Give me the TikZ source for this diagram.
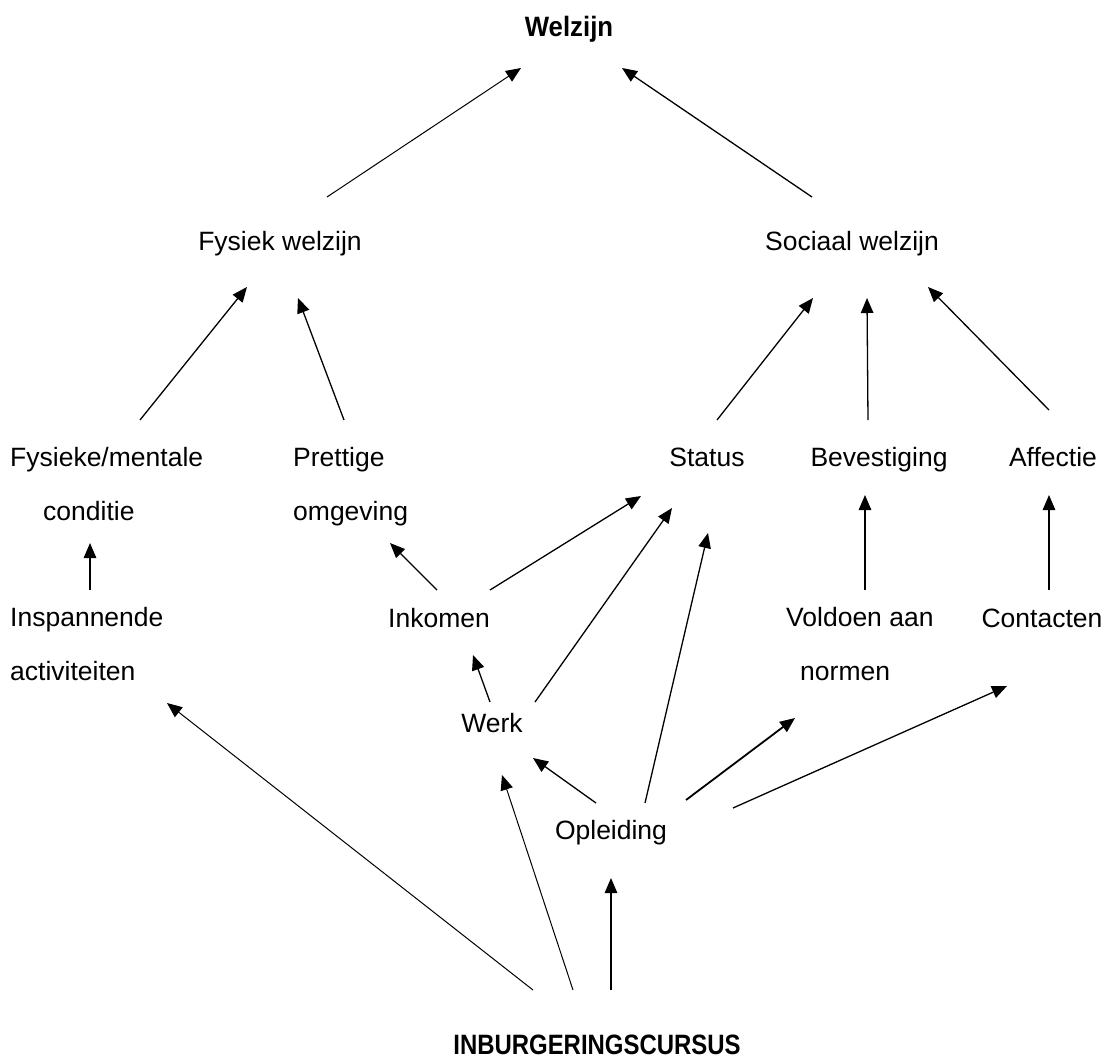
\documentclass[tikz,border=0pt]{standalone}
\usepackage{fontspec}
\setmainfont{Liberation Sans}
\usetikzlibrary{arrows.meta}
\begin{document}
\begin{tikzpicture}[x=1pt,y=-1pt,
  lbl/.style={inner sep=0pt, anchor=base, font=\fontsize{26.5}{54}\selectfont},
  lbll/.style={inner sep=0pt, anchor=base west, align=left, font=\fontsize{26.5}{54}\selectfont},
  ttl/.style={inner sep=0pt, anchor=base, font=\fontsize{28}{30}\selectfont\bfseries},
  arr/.style={-{Triangle[length=15pt,width=12.5pt]}, line width=1.3pt},
  arrthin/.style={arr, line width=1pt},
  arrthick/.style={arr, line width=1.8pt}]
\useasboundingbox (0,0) rectangle (1106,1060);
% nodes (multi-line nodes are placed by the baseline of their last line)
\node[ttl] (welzijn) at (569,36) {\scalebox{0.92}[1]{Welzijn}};
\node[lbl] (fysiek) at (280,250) {Fysiek welzijn};
\node[lbl] (sociaal) at (852,250) {Sociaal welzijn};
\node[lbll] (conditie) at (10,520) {Fysieke/mentale\\\hspace*{33pt}conditie};
\node[lbll] (omgeving) at (293,520) {Prettige\\omgeving};
\node[lbl] (status) at (707,466) {Status};
\node[lbl] (bevestiging) at (879,466) {Bevestiging};
\node[lbl] (affectie) at (1053,466) {Affectie};
\node[lbll] (inspannend) at (10,680) {Inspannende\\activiteiten};
\node[lbl] (inkomen) at (439,627) {Inkomen};
\node[lbll] (normen) at (786,680) {Voldoen aan\\\hspace*{14pt}normen};
\node[lbl] (contacten) at (1042,627) {Contacten};
\node[lbl] (werk) at (492,732) {Werk};
\node[lbl] (opleiding) at (611,839) {Opleiding};
\node[ttl] (cursus) at (597,1054) {\scalebox{0.855}[1]{INBURGERINGSCURSUS}};
% connector end points
\coordinate (f1) at (327,197); \coordinate (w1) at (521,68);
\coordinate (s1) at (812,197); \coordinate (w2) at (622,68);
\coordinate (c1) at (140,420); \coordinate (f2) at (247,287);
\coordinate (o1) at (344,420); \coordinate (f3) at (298,298);
\coordinate (st1) at (717,420); \coordinate (s2) at (813,298);
\coordinate (b1) at (868,420); \coordinate (s3) at (867,298);
\coordinate (a1) at (1049,410); \coordinate (s4) at (928,287);
\coordinate (i1) at (90,590); \coordinate (c2) at (90,543);
\coordinate (k1) at (437,590); \coordinate (o2) at (390,543);
\coordinate (k2) at (490,590); \coordinate (st2) at (641,496);
\coordinate (wk1) at (490,702); \coordinate (k3) at (473,655);
\coordinate (wk2) at (535,702); \coordinate (st3) at (672,508);
\coordinate (op1) at (596,803); \coordinate (wk3) at (533,758);
\coordinate (op2) at (645,803); \coordinate (st4) at (708,533);
\coordinate (op3) at (686,800); \coordinate (n1) at (795,718);
\coordinate (op4) at (733,808); \coordinate (ct1) at (1007,686);
\coordinate (n2) at (865,590); \coordinate (b2) at (865,495);
\coordinate (ct2) at (1049,590); \coordinate (a2) at (1049,495);
\coordinate (cu1) at (611,990); \coordinate (op5) at (611,878);
\coordinate (cu2) at (573,990); \coordinate (wk4) at (502,775);
\coordinate (cu3) at (533,990); \coordinate (i2) at (167,703);
% connectors
\draw[arrthin] (f1) -- (w1);
\draw[arr] (s1) -- (w2);
\draw[arr] (c1) -- (f2);
\draw[arr] (o1) -- (f3);
\draw[arr] (st1) -- (s2);
\draw[arr] (b1) -- (s3);
\draw[arr] (a1) -- (s4);
\draw[arr] (i1) -- (c2);
\draw[arr] (k1) -- (o2);
\draw[arr] (k2) -- (st2);
\draw[arr] (wk1) -- (k3);
\draw[arr] (wk2) -- (st3);
\draw[arr] (op1) -- (wk3);
\draw[arr] (op2) -- (st4);
\draw[arrthick] (op3) -- (n1);
\draw[arr] (op4) -- (ct1);
\draw[arr] (n2) -- (b2);
\draw[arr] (ct2) -- (a2);
\draw[arr] (cu1) -- (op5);
\draw[arrthin] (cu2) -- (wk4);
\draw[arrthin] (cu3) -- (i2);
\end{tikzpicture}
\end{document}
